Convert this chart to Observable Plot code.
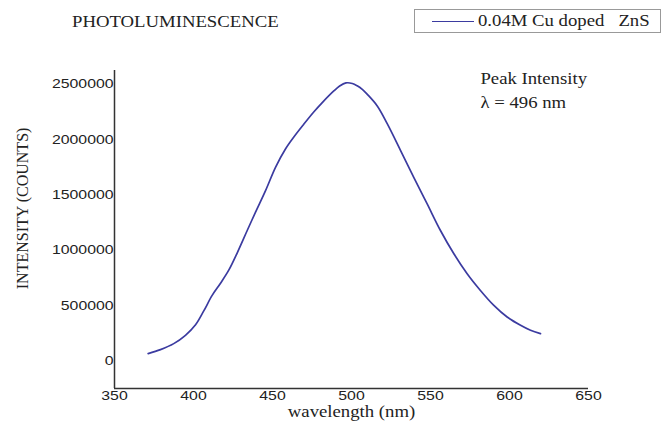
<!DOCTYPE html>
<html>
<head>
<meta charset="utf-8">
<script src="https://cdn.jsdelivr.net/npm/d3@7"></script>
<script src="https://cdn.jsdelivr.net/npm/@observablehq/plot@0.6"></script>
<style>
  html, body { margin: 0; padding: 0; background: #fff; }
  #wrap { position: relative; width: 662px; height: 426px; overflow: hidden; background: #fff; }
  #wrap svg { position: absolute; left: 0; top: 0; }
  .serif { font-family: "Liberation Serif", "Times New Roman", serif; font-size: 16px; color: #222; white-space: pre; }
  #title { position: absolute; left: 72px; top: 12px; line-height: 20px; transform: scaleX(1.17); transform-origin: left center; z-index: 2; }
  #legend { position: absolute; left: 414px; top: 9px; width: 247px; height: 24px; border: 1px solid #999; box-sizing: border-box; z-index: 2; background: #fff; }
  #legend .sw { position: absolute; left: 17px; top: 11px; width: 42px; height: 0; border-top: 1.8px solid #3b3ba0; }
  #legend .lab { position: absolute; left: 63px; top: 1px; line-height: 20px; transform: scaleX(1.17); transform-origin: left center; }
</style>
</head>
<body>
<div id="wrap">
  <div id="title" class="serif">PHOTOLUMINESCENCE</div>
  <div id="legend"><div class="sw"></div><div class="lab serif">0.04M Cu doped   ZnS</div></div>
</div>
<script>
const wavelength = [371.3, 379.1, 387.5, 394.9, 401.3, 406.5, 411.8, 417.1, 422.4, 427.7, 434.0, 439.2, 445.6, 451.9, 458.2, 463.5, 469.8, 476.1, 481.5, 488.8, 492.5, 496.5, 500.5, 503.6, 507.0, 510.0, 516.3, 522.6, 531.0, 539.4, 547.9, 556.3, 564.8, 573.2, 581.6, 590.1, 598.5, 607.0, 613.3, 619.6];
const intensity = [65000, 101000, 155000, 230000, 325000, 450000, 590000, 700000, 820000, 975000, 1176000, 1340000, 1536000, 1746000, 1912000, 2020000, 2135000, 2245000, 2330000, 2435000, 2480000, 2508000, 2503000, 2482000, 2448000, 2405000, 2300000, 2140000, 1900000, 1656000, 1416000, 1176000, 966000, 786000, 635000, 500000, 395000, 320000, 275000, 245000];
const xTicks = [350, 400, 450, 500, 550, 600, 650];
const yTicks = [0, 500000, 1000000, 1500000, 2000000, 2500000];
const xLabel = "wavelength (nm)";
const yLabel = "INTENSITY (COUNTS)";
const notes = ["Peak Intensity", "λ = 496 nm"];

const data = wavelength.map((w, i) => ({wl: w, int: intensity[i]}));
const serif = "Liberation Serif, Times New Roman, serif";

const chart = Plot.plot({
  width: 662,
  height: 426,
  marginTop: 70,
  marginBottom: 38,
  marginLeft: 114,
  marginRight: 74,
  style: {fontFamily: "Liberation Sans, Arial, sans-serif", fontSize: "13.5px", color: "#222", background: "transparent"},
  x: {domain: [350, 650]},
  y: {domain: [-250000, 2620000]},
  marks: [
    Plot.axisX({ticks: xTicks, tickSize: 0, tickPadding: 2, tickFormat: d3.format("d"), label: null}),
    Plot.axisY({ticks: yTicks, tickSize: 0, tickPadding: 1, tickFormat: d3.format("d"), label: null}),
    Plot.ruleX([350], {stroke: "#333", strokeWidth: 1.5}),
    Plot.ruleY([-250000], {stroke: "#333", strokeWidth: 1.5}),
    Plot.line(data, {x: "wl", y: "int", stroke: "#3b3ba0", strokeWidth: 1.7, curve: "catmull-rom"}),
    Plot.text([xLabel], {x: 500, frameAnchor: "bottom", dy: 28, fontFamily: serif, fontSize: 16, fill: "#222"}),
    Plot.text([yLabel], {x: 350, y: 1375000, dx: -92, rotate: -90, fontFamily: serif, fontSize: 16, fill: "#222"}),
    Plot.text([notes[0]], {x: 581.6, y: 2545000, textAnchor: "start", fontFamily: serif, fontSize: 16, fill: "#222"}),
    Plot.text([notes[1]], {x: 581.6, y: 2329000, textAnchor: "start", fontFamily: serif, fontSize: 16, fill: "#222"})
  ]
});

document.getElementById("wrap").prepend(chart);

// horizontal stretch of the reference's lettering
chart.querySelectorAll("text").forEach(t => {
  const tr = t.getAttribute("transform") || "";
  if (tr.includes("rotate")) return;
  const L = t.getComputedTextLength();
  if (L > 0) {
    t.setAttribute("textLength", (L * 1.17).toFixed(1));
    t.setAttribute("lengthAdjust", "spacingAndGlyphs");
  }
});
</script>
</body>
</html>
